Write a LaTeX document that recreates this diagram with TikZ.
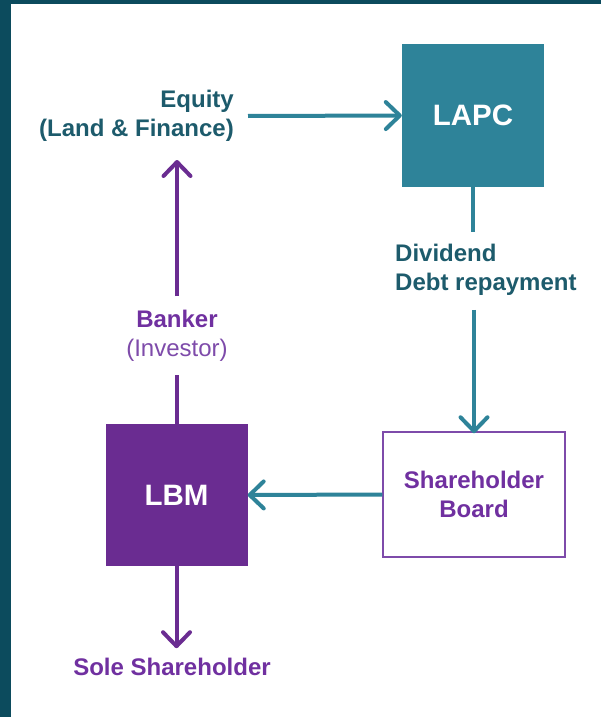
\documentclass[tikz,border=0pt]{standalone}
\usepackage{fontspec}
\setmainfont{Liberation Sans}
\usetikzlibrary{arrows.meta,backgrounds}
\definecolor{frameteal}{HTML}{0C4B5D}
\definecolor{lapcteal}{HTML}{2E8399}
\definecolor{labelteal}{HTML}{1D5B6C}
\definecolor{lbmpurple}{HTML}{6A2C91}
\definecolor{labelpurple}{HTML}{7030A0}
\definecolor{softpurple}{HTML}{7E4BAA}
\tikzstyle{company}=[rectangle,
minimum width=142pt,
minimum height=142pt,
text=white,
font=\bfseries\fontsize{29.5}{34}\selectfont]
\tikzstyle{board}=[rectangle,
draw=softpurple,
line width=1.5pt,
minimum width=182pt,
minimum height=125pt,
text=labelpurple,
align=center,
font=\bfseries\fontsize{24}{29}\selectfont]
\tikzstyle{flowlabel}=[inner sep=0pt,
font=\bfseries\fontsize{24}{29}\selectfont]
\tikzstyle{tealflow}=[draw=lapcteal,
line width=4pt]
\tikzstyle{purpleflow}=[draw=lbmpurple,
line width=4pt]

\begin{document}
\begin{tikzpicture}[x=1pt,y=-1pt,
>={Straight Barb[length=14pt,width=27pt,round]}]
	% frame: dark band left and top, white page
	\fill[frameteal] (0,0) rectangle (601,717);
	\fill[white] (11,4) rectangle (601,717);
	
	% The two companies and the board
	\node (lapc)  [company,fill=lapcteal] at (473,115.5) {LAPC};
	\node (lbm)   [company,fill=lbmpurple] at (176.5,495) {LBM};
	\node (board) [board,fill=white] at (474,494.5) {Shareholder\\Board};
	
	% Labels on the flows
	\node (equity)   [flowlabel,text=labelteal,align=right,anchor=east]
	  at (234,116) {Equity\\(Land \& Finance)};
	\node (dividend) [flowlabel,text=labelteal,align=left,anchor=west]
	  at (395,270) {Dividend\\Debt repayment};
	\node (banker)   [flowlabel,text=labelpurple,align=center]
	  at (177,336) {Banker\\{\mdseries\color{softpurple}(Investor)}};
	\node (sole)     [flowlabel,text=labelpurple]
	  at (172,667) {Sole Shareholder};
	
	% The diagram elements are now connected through arrows:
	\draw[tealflow,->] (equity.east) ++(14,0) -- (lapc.west);
	\draw[tealflow] (lapc.south) -- ++(0,45);
	\draw[tealflow,->] (dividend.south -| board.north) ++(0,14) -- ([yshift=-2pt]board.north);
	\draw[tealflow,->] (board.west) -- (lbm.east);
	\draw[purpleflow] (lbm.north) -- ++(0,-49);
	\draw[purpleflow,->] (banker.north) ++(0,-14) -- (177,160);
	\draw[purpleflow,->] (lbm.south) -- ++(0,82);
\end{tikzpicture}
\end{document}
